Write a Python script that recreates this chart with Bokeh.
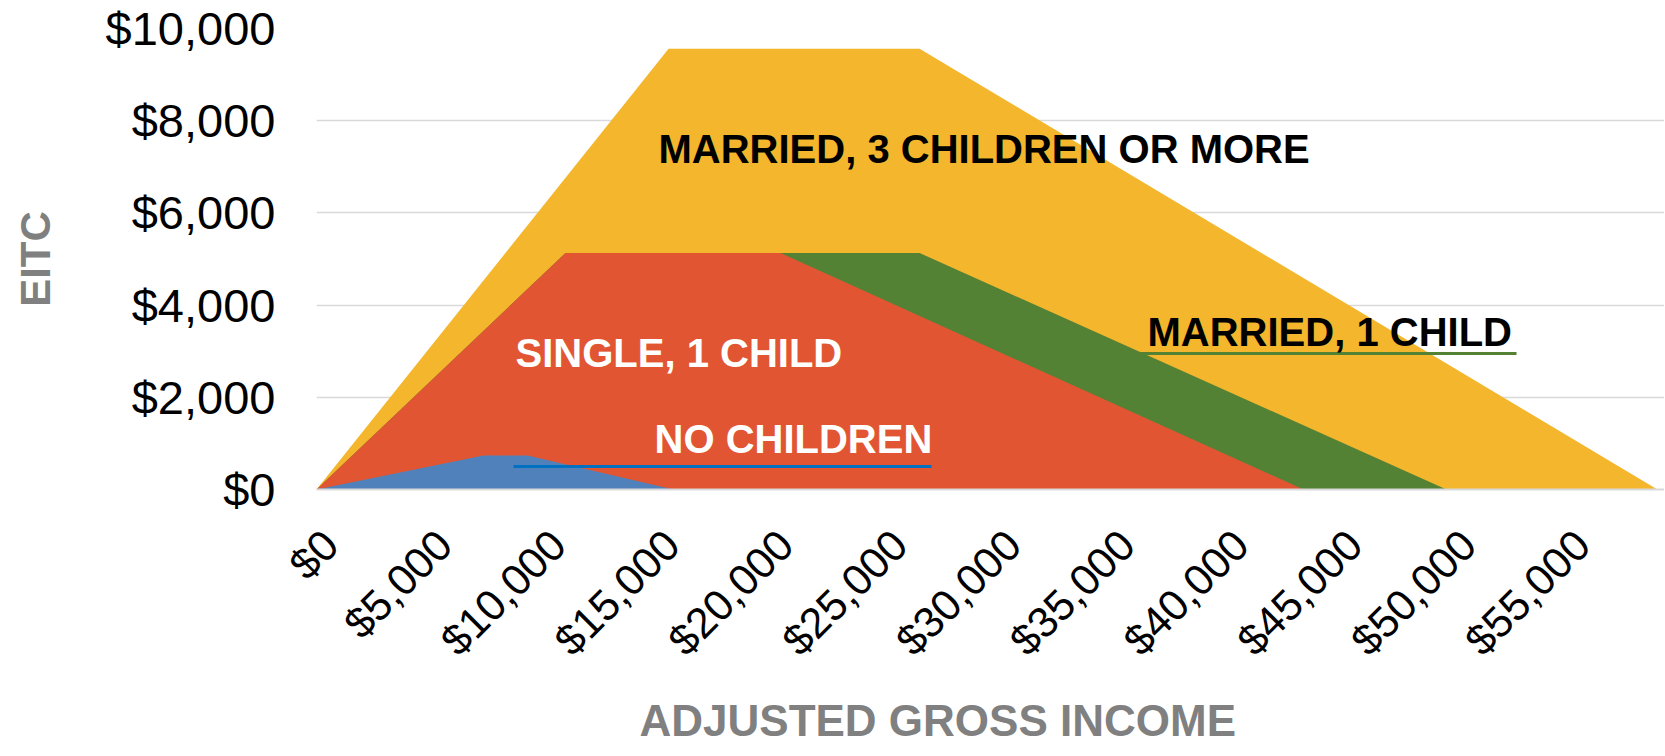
import math
from bokeh.plotting import figure
from bokeh.models import Range1d, FixedTicker, NumeralTickFormatter, Label, Title
from bokeh.embed import file_html
from bokeh.resources import INLINE

# ---- data ----
no_children_income = [0, 7340, 9270, 15690]
no_children_eitc = [0, 740, 740, 0]

single_1_child_income = [0, 10940, 20390, 43370]
single_1_child_eitc = [0, 5130, 5130, 0]

married_1_child_income = [0, 10940, 26500, 49650]
married_1_child_eitc = [0, 5130, 5130, 0]

married_3_children_income = [0, 15470, 26500, 58920]
married_3_children_eitc = [0, 9560, 9560, 0]

x_tick_values = [0, 5000, 10000, 15000, 20000, 25000, 30000, 35000, 40000, 45000, 50000, 55000]
x_tick_labels = ["$0", "$5,000", "$10,000", "$15,000", "$20,000", "$25,000", "$30,000",
                 "$35,000", "$40,000", "$45,000", "$50,000", "$55,000"]
y_ticks = [0, 2000, 4000, 6000, 8000, 10000]

# the source chart (category axis) draws its slanted labels slightly right of each value
LABEL_SHIFT = 615

FONT = "Liberation Sans"
YELLOW = "#F3B62D"
RED = "#E15532"
GREEN = "#548235"
BLUE = "#5181BA"
GRAY = "#808080"

p = figure(width=1664, height=756, output_backend="svg", toolbar_location=None,
           x_range=Range1d(0, 59230), y_range=Range1d(0, 10000),
           min_border_left=316, min_border_right=0, min_border_top=28, min_border_bottom=267)
p.outline_line_color = None
p.background_fill_color = "white"
p.border_fill_color = "white"

# areas
p.varea(x=married_3_children_income, y1=0, y2=married_3_children_eitc, fill_color=YELLOW)
p.varea(x=married_1_child_income, y1=0, y2=married_1_child_eitc, fill_color=GREEN)
p.varea(x=single_1_child_income, y1=0, y2=single_1_child_eitc, fill_color=RED)
p.varea(x=no_children_income, y1=0, y2=no_children_eitc, fill_color=BLUE)

# callout underlines
p.segment(x0=[8656], y0=[499], x1=[27023], y1=[499], line_color="#0070C0", line_width=3)
p.segment(x0=[36207], y0=[2950], x1=[52728], y1=[2950], line_color=GREEN, line_width=3)

# in-chart labels
def lab(x, y, t, color, size="40px"):
    p.add_layout(Label(x=x, y=y, text=t, text_color=color, text_font=FONT,
                       text_font_size=size, text_font_style="bold",
                       text_align="left", text_baseline="alphabetic"))

lab(15027, 7396, "MARRIED, 3 CHILDREN OR MORE", "black")
lab(8744, 2971, "SINGLE, 1 CHILD", "white")
lab(14852, 1106, "NO CHILDREN", "white")
lab(36514, 3427, "MARRIED, 1 CHILD", "black")

# x axis title
p.add_layout(Title(text="ADJUSTED GROSS INCOME", align="left", offset=323,
                   text_color=GRAY, text_font=FONT, text_font_size="44px",
                   text_font_style="bold", standoff=19), "below")

# grid
p.xgrid.visible = False
p.ygrid.grid_line_color = "#D9D9D9"
p.ygrid.grid_line_width = 1.5
p.ygrid.ticker = FixedTicker(ticks=y_ticks)

# axes
xa = p.xaxis[0]
tick_pos = [v + LABEL_SHIFT for v in x_tick_values]
xa.ticker = FixedTicker(ticks=tick_pos)
xa.major_label_overrides = {t: s for t, s in zip(tick_pos, x_tick_labels)}
xa.major_label_orientation = math.pi / 4
xa.major_label_text_font = FONT
xa.major_label_text_font_size = "43px"
xa.major_label_text_color = "black"
xa.major_label_standoff = 42
xa.major_tick_line_color = None
xa.minor_tick_line_color = None
xa.axis_line_color = "#D9D9D9"
xa.axis_line_width = 2

ya = p.yaxis[0]
ya.ticker = FixedTicker(ticks=y_ticks)
ya.formatter = NumeralTickFormatter(format="$0,0")
ya.major_label_text_font = FONT
ya.major_label_text_font_size = "47px"
ya.major_label_text_color = "black"
ya.major_label_standoff = 35
ya.major_tick_line_color = None
ya.minor_tick_line_color = None
ya.axis_line_color = None
ya.axis_label = "EITC"
ya.axis_label_text_font = FONT
ya.axis_label_text_font_size = "42px"
ya.axis_label_text_font_style = "bold"
ya.axis_label_text_color = GRAY
ya.axis_label_standoff = 44

open("out.html", "w").write(file_html(p, INLINE))
